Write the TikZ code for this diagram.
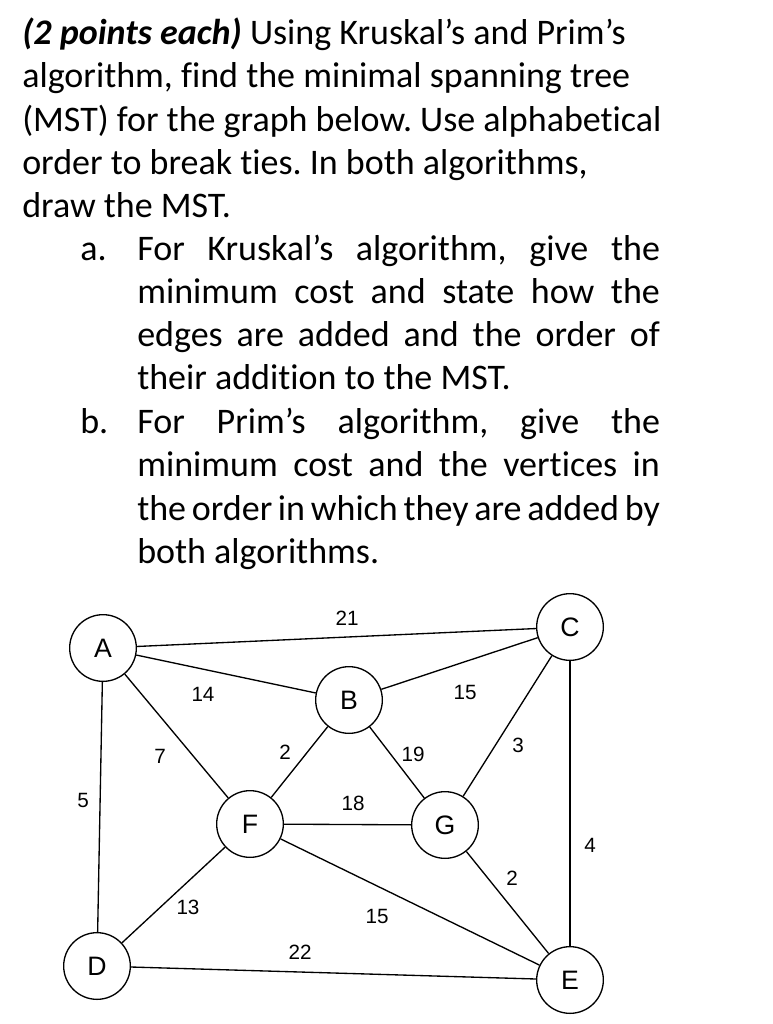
\documentclass[tikz,border=0pt]{standalone}
\usepackage{fontspec}
\setmainfont{Carlito}[Ligatures=NoCommon]
\newfontfamily\gfont{Liberation Sans}
\frenchspacing
\begin{document}
\begin{tikzpicture}[x=0.75pt,y=-0.75pt,
  txt/.style={anchor=base west,inner sep=0pt,font=\fontsize{27}{32}\selectfont},
  vx/.style={circle,draw,line width=1pt,minimum size=50pt,inner sep=0pt,font=\gfont\fontsize{20}{22}\selectfont},
  ed/.style={line width=1pt},
  lb/.style={font=\gfont\fontsize{15.5}{17}\selectfont,inner sep=1pt}]
\useasboundingbox (0,0) rectangle (773,1024);
\node[txt] (t1) at (22,45) {\textbf{\textit{(2 points each)}} Using Kruskal’s and Prim’s};
\node[txt] (t2) at (22,88) {algorithm, find the minimal spanning tree};
\node[txt] (t3) at (22,131) {(MST) for the graph below. Use alphabetical};
\node[txt] (t4) at (22,174) {order to break ties. In both algorithms,};
\node[txt] (t5) at (22,217) {draw the MST.};
\node[txt] (ma) at (80,260) {a.};
\node[txt] (a1) at (137,260) {\makebox[392pt][s]{For Kruskal’s algorithm, give the}};
\node[txt] (a2) at (137,303) {\makebox[392pt][s]{minimum cost and state how the}};
\node[txt] (a3) at (137,346) {\makebox[392pt][s]{edges are added and the order of}};
\node[txt] (a4) at (137,389) {their addition to the MST.};
\node[txt] (mb) at (80,433) {b.};
\node[txt] (b1) at (137,433) {\makebox[392pt][s]{For Prim’s algorithm, give the}};
\node[txt] (b2) at (137,476) {\makebox[392pt][s]{minimum cost and the vertices in}};
\node[txt] (b3) at (137,520) {\makebox[392pt][s]{the order in which they are added by}};
\node[txt] (b4) at (137,563) {both algorithms.};

\node[vx] (A) at (103,648) {A};
\node[vx] (B) at (349,700) {B};
\node[vx] (C) at (570,627) {C};
\node[vx] (F) at (250,824) {F};
\node[vx] (G) at (445,825) {G};
\node[vx] (D) at (97,966) {D};
\node[vx] (E) at (570,980) {E};
\draw[ed] (A)--(C); \draw[ed] (A)--(B); \draw[ed] (A)--(F); \draw[ed] (A)--(D);
\draw[ed] (B)--(F); \draw[ed] (B)--(G); \draw[ed] (B)--(C); \draw[ed] (C)--(G);
\draw[ed] (C)--(E); \draw[ed] (F)--(G); \draw[ed] (G)--(E); \draw[ed] (F)--(E);
\draw[ed] (F)--(D); \draw[ed] (D)--(E);
\node[lb] (l1) at (347,618) {21};
\node[lb] (l2) at (203,694) {14};
\node[lb] (l3) at (160,756) {7};
\node[lb] (l4) at (83,800) {5};
\node[lb] (l5) at (285,752) {2};
\node[lb] (l6) at (413,754) {19};
\node[lb] (l7) at (465,692) {15};
\node[lb] (l8) at (518,745) {3};
\node[lb] (l9) at (590,845) {4};
\node[lb] (l10) at (353,803) {18};
\node[lb] (l11) at (512,878) {2};
\node[lb] (l12) at (377,916) {15};
\node[lb] (l13) at (188,907) {13};
\node[lb] (l14) at (300,952) {22};
\end{tikzpicture}
\end{document}
